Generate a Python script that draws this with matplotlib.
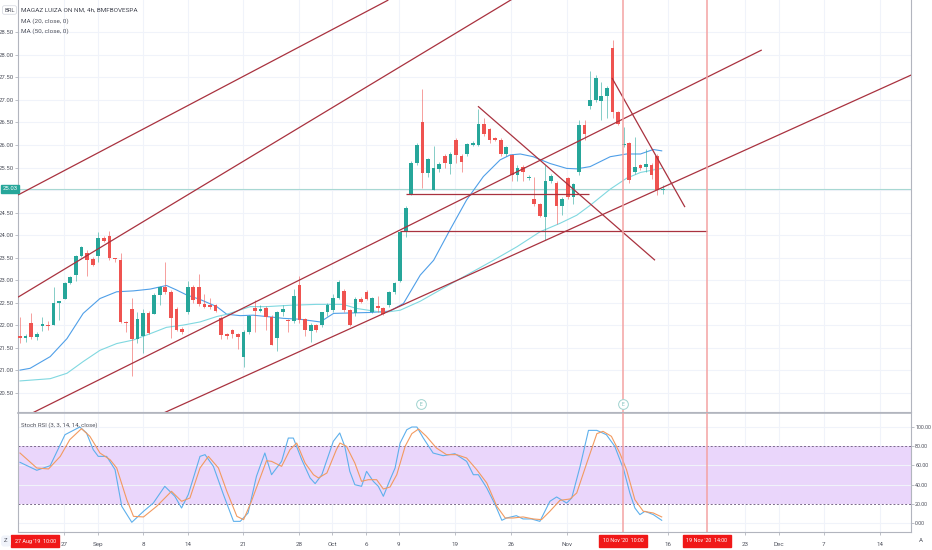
import matplotlib
matplotlib.use("Agg")
import matplotlib.pyplot as plt
import numpy as np
from matplotlib.transforms import blended_transform_factory

plt.rcParams['font.family'] = ['Roboto', 'DejaVu Sans']

# ---------------- data ----------------
opens = [21.75, 21.72, 22.04, 21.74, 21.98, 22.01, 22.00, 22.48, 22.59, 22.94,
         23.11, 23.54, 23.61, 23.46, 23.54, 23.93, 23.98, 23.48, 23.44, 22.07,
         22.35, 21.70, 21.76, 22.27, 22.24, 22.67, 22.84, 22.74, 22.35, 21.92,
         22.30, 22.84, 22.84, 22.46, 22.44, 22.44, 22.15, 21.80, 21.89, 21.80,
         21.30, 21.84, 22.39, 22.32, 22.37, 22.17, 21.72, 22.28, 22.11, 22.10,
         22.89, 22.13, 21.87, 22.00, 22.01, 22.28, 22.33, 22.61, 22.76, 22.33,
         22.26, 22.59, 22.74, 22.30, 22.42, 22.37, 22.44, 22.74, 22.98, 24.07,
         24.89, 25.61, 26.50, 25.37, 25.00, 25.46, 25.76, 25.58, 26.11, 25.76,
         25.80, 26.00, 26.00, 26.46, 26.35, 26.15, 26.10, 25.80, 25.78, 25.33,
         25.52, 25.26, 24.79, 24.69, 24.39, 25.19, 25.15, 24.64, 25.26, 24.84,
         25.39, 26.44, 26.87, 27.00, 26.98, 27.09, 28.15, 26.74, 26.00, 26.04,
         25.39, 25.56, 25.52, 25.56, 25.76, 24.99]
closes = [21.72, 21.76, 21.74, 21.81, 22.02, 21.98, 22.48, 22.54, 22.94, 23.06,
          23.54, 23.73, 23.44, 23.33, 23.93, 23.87, 23.48, 23.46, 22.07, 22.05,
          21.70, 22.13, 22.27, 21.83, 22.67, 22.84, 22.74, 22.15, 21.90, 21.85,
          22.84, 22.56, 22.46, 22.41, 22.41, 22.32, 21.78, 21.76, 21.80, 21.74,
          21.84, 22.20, 22.31, 22.35, 22.17, 21.56, 22.30, 22.35, 22.08, 22.64,
          22.11, 21.89, 22.00, 21.90, 22.28, 22.44, 22.61, 22.96, 22.33, 22.01,
          22.59, 22.52, 22.59, 22.60, 22.37, 22.24, 22.74, 22.93, 24.07, 24.59,
          25.61, 26.00, 25.37, 25.68, 25.48, 25.58, 25.59, 25.81, 25.78, 25.63,
          26.02, 26.05, 26.46, 26.24, 26.11, 26.11, 25.80, 25.95, 25.33, 25.50,
          25.39, 25.30, 24.69, 24.42, 25.19, 25.31, 24.64, 24.81, 24.84, 25.13,
          26.44, 26.24, 27.00, 27.48, 27.09, 27.26, 26.74, 26.47, 26.01, 25.22,
          25.52, 25.50, 25.58, 25.33, 24.99, 25.02]
highs = [22.17, 21.80, 22.27, 21.84, 22.17, 22.10, 22.85, 22.54, 22.96, 23.08,
         23.55, 23.75, 23.66, 23.52, 24.06, 23.98, 24.10, 23.50, 23.60, 22.10,
         22.60, 22.28, 22.35, 22.32, 22.72, 22.86, 23.40, 22.78, 22.40, 21.96,
         22.98, 22.90, 23.13, 22.70, 22.60, 22.46, 22.20, 21.82, 21.92, 21.82,
         21.90, 22.22, 22.56, 22.45, 22.42, 22.22, 22.32, 22.45, 22.14, 22.80,
         23.10, 22.15, 22.05, 22.02, 22.30, 22.50, 22.70, 23.00, 22.80, 22.36,
         22.62, 22.62, 22.78, 22.62, 22.65, 22.40, 22.76, 22.96, 24.08, 24.65,
         25.65, 26.05, 27.24, 25.72, 25.98, 25.62, 25.80, 25.85, 26.15, 25.80,
         26.05, 26.08, 26.79, 26.60, 26.38, 26.18, 26.15, 25.98, 25.80, 25.55,
         25.55, 25.33, 25.30, 24.72, 25.55, 25.35, 25.20, 24.85, 25.30, 25.16,
         26.56, 26.56, 27.65, 27.55, 27.40, 27.30, 28.33, 26.76, 26.40, 26.06,
         26.17, 25.58, 25.90, 25.60, 25.80, 25.12]
lows = [21.60, 21.62, 21.70, 21.66, 21.88, 21.90, 22.00, 22.12, 22.57, 22.92,
        22.98, 23.52, 23.10, 23.31, 23.40, 23.85, 23.45, 23.40, 22.05, 21.85,
        20.88, 21.60, 21.37, 21.80, 22.24, 22.45, 22.70, 21.72, 21.87, 21.80,
        22.25, 22.50, 22.42, 22.38, 22.35, 22.28, 21.70, 21.70, 21.72, 21.48,
        21.08, 21.80, 21.85, 22.30, 21.90, 21.55, 21.42, 22.20, 21.85, 22.05,
        22.05, 21.75, 21.63, 21.85, 21.95, 22.20, 22.30, 22.58, 22.30, 21.98,
        22.20, 22.48, 22.55, 22.26, 22.30, 22.22, 22.40, 22.70, 22.95, 23.95,
        24.88, 25.55, 25.05, 25.30, 25.00, 25.40, 25.50, 25.35, 25.60, 25.40,
        25.75, 25.98, 25.98, 26.20, 26.05, 26.08, 25.75, 25.75, 25.20, 25.20,
        25.20, 25.22, 24.65, 24.40, 23.89, 25.15, 24.25, 24.45, 24.80, 24.70,
        25.33, 26.10, 26.80, 26.95, 26.55, 26.60, 26.60, 26.45, 25.95, 25.15,
        25.35, 25.45, 25.40, 25.25, 24.90, 24.92]

# moving averages (bar index, value)
ma20_x = [1, 2.8, 6.4, 9.4, 12.3, 15.3, 18.3, 21.3, 24.3, 27.2, 29.0, 30.8, 33.2, 36.2,
          38.0, 40.4, 42.7, 45.1, 48.1, 51.1, 54.7, 57.1, 63.6, 67.2, 69.6, 72.6, 75.0,
          77.9, 80.9, 83.9, 86.9, 88.7, 90.5, 92.8, 95.8, 98.8, 100.6, 103.0, 106.6,
          109.5, 112.0, 114.3, 115.8]
ma20_y = [21.00, 21.04, 21.30, 21.70, 22.26, 22.59, 22.74, 22.76, 22.80, 22.88, 22.78,
          22.67, 22.57, 22.41, 22.24, 22.21, 22.22, 22.19, 22.15, 22.13, 22.07, 22.26,
          22.28, 22.31, 22.48, 23.11, 23.44, 24.11, 24.78, 25.30, 25.67, 25.78, 25.80,
          25.74, 25.59, 25.48, 25.47, 25.52, 25.74, 25.80, 25.80, 25.90, 25.87]
ma50_x = [1, 6.4, 9.4, 12.3, 15.3, 18.3, 21.3, 24.3, 27.2, 30.2, 33.2, 36.2, 38.0, 42.2,
          45.1, 49.3, 54.0, 58.8, 61.2, 66.0, 69.0, 72.6, 79.0, 85.7, 89.9, 94.0, 97.6,
          100.6, 103.0, 106.6, 109.5, 112.0, 114.9, 115.8]
ma50_y = [20.76, 20.81, 20.93, 21.19, 21.44, 21.59, 21.67, 21.81, 21.95, 22.00, 22.07,
          22.19, 22.24, 22.41, 22.41, 22.44, 22.46, 22.46, 22.37, 22.28, 22.33, 22.53,
          22.98, 23.44, 23.74, 24.07, 24.26, 24.44, 24.66, 25.02, 25.26, 25.39, 25.46, 25.48]

# Stoch RSI %K (blue) and %D (orange)
k_x = [1.0, 4.0, 6.4, 9.05, 11.7, 12.9, 14.1, 15.0, 16.5, 18.0, 19.2, 21.0, 23.1, 24.85,
       26.9, 28.7, 29.9, 31.1, 33.2, 34.1, 35.6, 37.4, 39.2, 40.4, 41.8, 43.3, 44.8, 46.0,
       47.8, 49.0, 49.9, 51.4, 52.9, 53.8, 55.0, 57.05, 58.2, 59.1, 60.0, 60.9, 62.1,
       63.0, 64.2, 65.1, 66.0, 67.2, 68.1, 69.0, 70.2, 71.1, 72.0, 73.15, 74.9, 76.7,
       78.8, 80.9, 82.1, 83.0, 84.5, 86.0, 87.2, 88.05, 89.8, 91.0, 92.5, 94.0, 95.8,
       97.0, 98.8, 99.7, 101.2, 102.7, 104.2, 105.9, 107.4, 109.0, 110.1, 111.0, 111.9,
       112.8, 114.3, 115.8]
k_y = [63.2, 54.9, 59.7, 92.0, 100.0, 93.8, 76.4, 69.4, 69.4, 55.6, 17.4, 0.7, 12.2, 20.8,
       38.2, 27.8, 15.6, 29.5, 69.4, 71.2, 59.0, 29.5, 1.7, 1.7, 10.4, 48.6, 72.9, 50.3,
       64.2, 88.5, 88.5, 66.0, 46.9, 41.0, 50.3, 85.1, 93.8, 79.9, 53.8, 39.9, 38.2,
       53.8, 43.4, 38.2, 27.8, 45.1, 57.3, 83.3, 97.2, 100.0, 100.0, 88.5, 72.9, 70.1,
       72.2, 64.2, 50.3, 50.3, 36.5, 19.1, 2.8, 5.2, 7.6, 4.2, 4.2, 1.7, 22.6,
       27.1, 20.8, 26.0, 59.0, 96.5, 96.5, 92.0, 79.9, 55.6, 31.3, 15.6, 8.7,
       12.2, 8.7, 2.8]
d_x = [1.0, 4.0, 6.1, 8.2, 9.9, 12.0, 13.5, 15.3, 17.1, 18.3, 20.1, 21.3, 23.1, 25.45,
       28.1, 29.9, 31.4, 33.2, 34.7, 36.5, 38.0, 39.8, 41.0, 42.4, 45.1, 46.0, 47.8, 49.3,
       50.5, 52.0, 53.5, 54.4, 55.9, 57.6, 58.24, 59.4, 60.9, 62.1, 63.3, 64.8, 66.0,
       67.2, 68.4, 69.9, 71.1, 72.3, 73.7, 75.5, 77.3, 79.1, 80.9, 82.7, 84.5, 86.3,
       87.8, 89.2, 91.0, 92.8, 94.3, 95.8, 97.6, 99.4, 100.6, 102.4, 104.2, 105.3,
       106.8, 108.3, 109.5, 111.0, 112.5, 114.3, 115.8]
d_y = [72.9, 57.3, 56.3, 69.4, 86.8, 98.3, 90.3, 72.9, 66.0, 57.3, 24.3, 6.9, 6.3, 17.4,
       33.0, 22.6, 26.0, 57.3, 69.4, 57.3, 33.0, 6.9, 3.5, 22.6, 64.9, 64.2, 59.0, 76.4,
       83.3, 62.5, 50.3, 46.9, 52.1, 76.4, 83.3, 79.9, 62.5, 43.4, 45.1, 45.1, 35.4,
       37.5, 50.3, 79.9, 93.1, 97.9, 90.3, 78.1, 71.2, 71.2, 67.7, 55.6, 41.7, 17.4,
       5.2, 5.2, 6.3, 4.2, 3.5, 12.2, 23.6, 25.0, 31.3, 62.5, 93.1, 95.5,
       90.3, 72.9, 55.6, 24.3, 12.2, 10.4, 6.3]

# trend lines drawn on chart: (x0, y0, x1, y1) in bar index / price
trend_lines = [
    (0.64, 24.89, 66.9, 29.22),
    (0.64, 22.62, 90.0, 29.31),
    (0.0, 19.85, 133.7, 28.11),
    (0.0, 18.55, 165.0, 27.81),
    (82.93, 26.86, 114.6, 23.44),
    (106.9, 27.49, 119.96, 24.62),
    (70.05, 24.91, 102.8, 24.91),
    (69.0, 24.09, 123.9, 24.09),
]
vert_lines = [108.9, 123.9]
earnings = [72.7, 108.9]
last_price = 25.03

date_pos = [8.87, 14.95, 23.0, 31.05, 40.9, 50.9, 56.8, 62.9, 68.8, 78.8, 88.8, 98.9,
            116.9, 130.7, 136.8, 144.8, 154.8]
date_labels = ["27", "Sep", "8", "14", "21", "28", "Oct", "6", "9", "19", "26", "Nov",
               "16", "23", "Dec", "7", "14"]
red_pos = [3.7, 108.9, 123.9]
red_labels = ["27 Aug '19  10:00", "10 Nov '20  10:00", "19 Nov '20  14:00"]

price_ticks = [20.5, 21.0, 21.5, 22.0, 22.5, 23.0, 23.5, 24.0, 24.5, 25.0, 25.5, 26.0,
               26.5, 27.0, 27.5, 28.0, 28.5]
stoch_ticks = [0, 20, 40, 60, 80, 100]

# ---------------- figure ----------------
W, H = 932, 550
fig = plt.figure(figsize=(W / 100, H / 100), dpi=100)
fig.patch.set_facecolor("white")

L, R = 18, 911
ax = fig.add_axes([L / W, (H - 412) / H, (R - L) / W, 412 / H])
ax2 = fig.add_axes([L / W, (H - 532) / H, (R - L) / W, (532 - 413) / H], sharex=ax)

XMIN, XMAX = 0.64, 160.4
ax.set_xlim(XMIN, XMAX)
ax.set_ylim(20.07, 29.22)
ax2.set_ylim(-9.4, 114.6)

grid_c = "#f0f3fa"
axis_c = "#b2b5be"
text_c = "#50535e"
up_c, dn_c = "#26a69a", "#ef5350"
line_c = "#a9323f"

for a in (ax, ax2):
    for s in a.spines.values():
        s.set_color(axis_c)
        s.set_linewidth(0.8)
    a.spines['top'].set_visible(False)
    a.set_facecolor("white")
    for p in date_pos:
        a.axvline(p, color=grid_c, lw=0.8, zorder=0)

for p in price_ticks:
    ax.axhline(p, color=grid_c, lw=0.8, zorder=0)

# price axis on the left (the last-price tag covers the 25.00 label)
ax.set_yticks(price_ticks)
ax.set_yticklabels(["" if abs(p - last_price) < 0.1 else f"{p:.2f}" for p in price_ticks])
ax.tick_params(axis='y', labelsize=4.3, colors=axis_c, labelcolor=text_c, length=2, pad=1, width=0.6)
ax.tick_params(axis='x', bottom=False, labelbottom=False)

# moving averages
ax.plot(ma20_x, ma20_y, color="#4f9fe8", lw=0.8, zorder=2)
ax.plot(ma50_x, ma50_y, color="#80d8e0", lw=0.8, zorder=2)

# candles
idx = np.arange(1, len(opens) + 1)
o = np.array(opens); c = np.array(closes)
cols = [up_c if cc >= oo else dn_c for oo, cc in zip(o, c)]
ax.vlines(idx, lows, highs, colors=cols, lw=0.6, alpha=0.65, zorder=3)
bottoms = np.minimum(o, c)
heights = np.maximum(np.abs(c - o), 0.025)
ax.bar(idx, heights, bottom=bottoms, width=0.66, color=cols, zorder=4, linewidth=0)

# last price line + label
ax.axhline(last_price, color="#a8d8d3", lw=0.8, zorder=1)
ax.text(-0.0005, last_price, f"{last_price:.2f}",
        transform=blended_transform_factory(ax.transAxes, ax.transData),
        ha='right', va='center', fontsize=4.3, color="white",
        bbox=dict(boxstyle="square,pad=0.25", fc=up_c, ec=up_c), zorder=10, clip_on=False)

# trend lines
for (x0, y0, x1, y1) in trend_lines:
    ax.plot([x0, x1], [y0, y1], color=line_c, lw=0.9, zorder=5, solid_capstyle='butt')

# vertical marker lines
for v in vert_lines:
    ax.axvline(v, color="#f4a3a3", lw=1.1, zorder=6)
    ax2.axvline(v, color="#f4a3a3", lw=1.1, zorder=6)

# earnings markers
for e in earnings:
    ax.plot([e], [20.24], marker='o', ms=7, mfc='white', mec="#9fd3cf", mew=0.7, zorder=7, clip_on=False)
    ax.text(e, 20.24, "E", ha='center', va='center', fontsize=3.6, color="#7bbfb9", zorder=8)

# header texts
fig.text(21 / W, 1 - 10 / H, "MAGAZ LUIZA ON NM, 4h, BMFBOVESPA",
         fontsize=4.6, color="#434651", va='center', ha='left')
fig.text(21 / W, 1 - 21 / H, "MA (20, close, 0)",
         fontsize=4.6, color=text_c, va='center', ha='left')
fig.text(21 / W, 1 - 31 / H, "MA (50, close, 0)",
         fontsize=4.6, color=text_c, va='center', ha='left')
fig.text(9.5 / W, 1 - 10 / H, "BRL", fontsize=4.2, color=text_c, va='center', ha='center',
         bbox=dict(boxstyle="round,pad=0.3", fc="white", ec="#d1d4dc", lw=0.5))

# ---------------- stoch RSI panel ----------------
ax2.axhspan(20, 80, color="#ead6fb", zorder=0, lw=0)
for v in (0, 40, 60, 100):
    ax2.axhline(v, color=grid_c, lw=0.8, zorder=0)
for v in (20, 80):
    ax2.axhline(v, color="#7a6a8a", lw=0.7, ls=(0, (2, 2)), zorder=1)
ax2.plot(k_x, k_y, color="#5eb0ec", lw=0.8, zorder=3)
ax2.plot(d_x, d_y, color="#f29a60", lw=0.8, zorder=3)
fig.text(21 / W, 1 - 425 / H, "Stoch RSI (3, 3, 14, 14, close)",
         fontsize=4.3, color=text_c, va='center', ha='left')
ax2.spines['top'].set_visible(True)
ax2.spines['top'].set_linewidth(1.2)

ax2.yaxis.tick_right()
ax2.set_yticks(stoch_ticks)
ax2.set_yticklabels([f"{v:.2f}" for v in stoch_ticks])
ax2.tick_params(axis='y', labelsize=3.9, colors=axis_c, labelcolor=text_c, length=2, pad=1, width=0.6)
ax2.spines['right'].set_visible(True)
ax.spines['right'].set_visible(True)

ax2.set_xticks(date_pos)
ax2.set_xticklabels(date_labels)
ax2.tick_params(axis='x', labelsize=4.5, colors=axis_c, labelcolor=text_c, length=2, pad=5, width=0.6)
ax2.set_xlim(XMIN, XMAX)

# red date boxes
bt = blended_transform_factory(ax2.transData, fig.transFigure)
for p, lab in zip(red_pos, red_labels):
    ax2.text(p, 9 / H, lab, transform=bt, ha='center', va='center', fontsize=3.9, color='white',
             bbox=dict(boxstyle="square,pad=0.7", fc="#f01818", ec="#f01818"), clip_on=False, zorder=10)

fig.text(6 / W, 9 / H, "Z", fontsize=4.3, color=text_c, ha='center', va='center',
         bbox=dict(boxstyle="round,pad=0.4", fc="#f0f3fa", ec="#f0f3fa"))
fig.text(921 / W, 9 / H, "A", fontsize=4.3, color=text_c, ha='center', va='center')

fig.savefig("out.png", dpi=100, facecolor="white")
